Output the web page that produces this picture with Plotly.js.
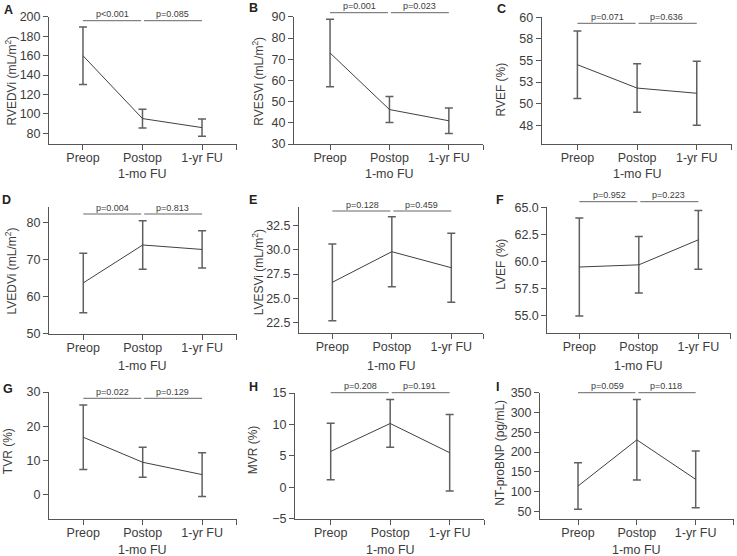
<!DOCTYPE html>
<html>
<head>
<meta charset="utf-8">
<script src="https://cdn.plot.ly/plotly-3.0.1.min.js"></script>
<style>
  html, body { margin: 0; padding: 0; background: #fff; }
  #chart { width: 737px; height: 556px; }
</style>
</head>
<body>
<div id="chart"></div>
<script>
// Time points shared by every panel
const timepoints = ['Preop', 'Postop', '1-yr FU'];
const postopSubLabel = '1-mo FU';

// Mean and SD per time point
const rvedviMean = [160, 95.2, 85.9];
const rvedviSD   = [29.6, 9.6, 8.9];
const rvesviMean = [73, 46.3, 41];
const rvesviSD   = [15.9, 6.1, 6];
const rvefMean   = [54.5, 51.8, 51.2];
const rvefSD     = [3.9, 2.8, 3.7];
const lvedviMean = [63.7, 73.9, 72.7];
const lvedviSD   = [8, 6.5, 5];
const lvesviMean = [26.65, 29.8, 28.15];
const lvesviSD   = [3.95, 3.6, 3.55];
const lvefMean   = [59.5, 59.7, 62.0];
const lvefSD     = [4.5, 2.6, 2.7];
const tvrMean    = [16.8, 9.5, 5.9];
const tvrSD      = [9.4, 4.4, 6.4];
const mvrMean    = [5.7, 10.15, 5.5];
const mvrSD      = [4.5, 3.8, 6.1];
const bnpMean    = [114, 231, 131];
const bnpSD      = [59, 102, 72];

// Pairwise p-values: Preop vs Postop, Postop vs 1-yr FU
const pEarly = ['p<0.001', 'p=0.001', 'p=0.071', 'p=0.004', 'p=0.128', 'p=0.952', 'p=0.022', 'p=0.208', 'p=0.059'];
const pLate  = ['p=0.085', 'p=0.023', 'p=0.636', 'p=0.813', 'p=0.459', 'p=0.223', 'p=0.129', 'p=0.191', 'p=0.118'];

// Panel letters and y-axis titles
const panelLetters = ['A', 'B', 'C', 'D', 'E', 'F', 'G', 'H', 'I'];
const yTitles = [
  'RVEDVi (mL/m<sup>2</sup>)', 'RVESVi (mL/m<sup>2</sup>)', 'RVEF (%)',
  'LVEDVi (mL/m<sup>2</sup>)', 'LVESVi (mL/m<sup>2</sup>)', 'LVEF (%)',
  'TVR (%)', 'MVR (%)', 'NT-proBNP (pg/mL)'
];

// RVEF axis labels are printed rounded to whole numbers
const rvefTickVals = [47.5, 50, 52.5, 55, 57.5, 60];
const rvefTickText = ['48', '50', '53', '55', '58', '60'];

const series = [
  [rvedviMean, rvedviSD], [rvesviMean, rvesviSD], [rvefMean, rvefSD],
  [lvedviMean, lvedviSD], [lvesviMean, lvesviSD], [lvefMean, lvefSD],
  [tvrMean, tvrSD], [mvrMean, mvrSD], [bnpMean, bnpSD]
];

// Page geometry (pixels) for each panel: plot box, axis ranges, label spots
const W = 737, H = 556;
const panels = [
  { l: 49,    r: 237,   t: 16.7,  b: 144,   xr: [-0.571, 2.588], yr: [69, 200.2],    ytick: { tick0: 80, dtick: 20 },
    br: 20.7,  letter: [8.5, 10],   ytl: [10.5, 81],   xtl: 174.5 },
  { l: 294,   r: 483.3, t: 16.7,  b: 144.3, xr: [-0.607, 2.58],  yr: [29.9, 90.1],   ytick: { tick0: 30, dtick: 10 },
    br: 12.7,  letter: [253, 7.5],  ytl: [257.8, 81],  xtl: 174 },
  { l: 541.7, r: 731.7, t: 16.7,  b: 144.3, xr: [-0.598, 2.585], yr: [45.3, 60.05],  ytick: { vals: rvefTickVals, text: rvefTickText },
    br: 23.3,  letter: [501, 8.5],  ytl: [500.5, 90],  xtl: 174.5 },
  { l: 49,    r: 237,   t: 206.7, b: 334,   xr: [-0.577, 2.587], yr: [49.95, 84.2],  ytick: { tick0: 50, dtick: 10 },
    br: 214,   letter: [6.5, 200],  ytl: [10.5, 271],  xtl: 366 },
  { l: 299,   r: 483.3, t: 207,   b: 333.3, xr: [-0.561, 2.538], yr: [21.4, 34.4],   ytick: { tick0: 22.5, dtick: 2.5, fmt: '.1f' },
    br: 211,   letter: [253, 200],  ytl: [257.8, 272.5], xtl: 366 },
  { l: 547.3, r: 731,   t: 206.7, b: 333.3, xr: [-0.538, 2.549], yr: [53.4, 65.05],  ytick: { tick0: 55, dtick: 2.5, fmt: '.1f' },
    br: 201.7, letter: [499.5, 200], ytl: [500.8, 264], xtl: 366 },
  { l: 49,    r: 236.7, t: 391.7, b: 519,   xr: [-0.577, 2.582], yr: [-7.06, 30.1],  ytick: { tick0: 0, dtick: 10 },
    br: 398.3, letter: [7.5, 389],  ytl: [7.5, 451.7], xtl: 549.5 },
  { l: 295,   r: 484.3, t: 392.7, b: 519,   xr: [-0.600, 2.582], yr: [-5.05, 15.05], ytick: { tick0: -5, dtick: 5 },
    br: 392.7, letter: [253.5, 386.7], ytl: [253.3, 450], xtl: 549.5 },
  { l: 540,   r: 734,   t: 392.7, b: 519,   xr: [-0.646, 2.651], yr: [30.5, 350.5],  ytick: { tick0: 50, dtick: 50 },
    br: 392.7, letter: [497.5, 386.7], ytl: [499.2, 452.5], xtl: 549.5 }
];

const FONT = 'Liberation Sans, Arial, Helvetica, sans-serif';
const TEXT = '#3c3c3c';
const AXIS = '#555555';
const px = v => v / W;
const py = v => 1 - v / H;

const data = [];
const layout = {
  width: W, height: H,
  margin: { l: 0, r: 0, t: 0, b: 0 },
  paper_bgcolor: '#ffffff', plot_bgcolor: '#ffffff',
  showlegend: false,
  font: { family: FONT, color: TEXT, size: 12 },
  shapes: [], annotations: []
};

panels.forEach((p, i) => {
  const n = i === 0 ? '' : String(i + 1);
  const xRef = 'x' + n, yRef = 'y' + n;
  const [mean, sd] = series[i];
  const idx = timepoints.map((_, k) => k);

  data.push({
    x: idx, y: mean,
    mode: 'lines',
    line: { color: '#404040', width: 1 },
    error_y: { type: 'data', array: sd, visible: true, color: '#606060', thickness: 1.5, width: 4 },
    xaxis: xRef, yaxis: yRef,
    hoverinfo: 'skip'
  });

  layout['xaxis' + n] = {
    domain: [px(p.l), px(p.r)],
    anchor: yRef,
    range: p.xr,
    tickmode: 'array',
    tickvals: idx,
    ticktext: timepoints,
    ticks: 'outside', ticklen: 5, tickwidth: 1, tickcolor: AXIS,
    ticklabelstandoff: -3,
    // closing tick at the right end of the axis
    minor: { tickmode: 'array', tickvals: [p.xr[1] - 0.002], ticks: 'outside', ticklen: 5, tickwidth: 1, tickcolor: AXIS, showgrid: false },
    showline: true, linecolor: AXIS, linewidth: 1,
    showgrid: false, zeroline: false,
    tickfont: { family: FONT, size: 12.5, color: TEXT },
    fixedrange: true
  };

  const ya = {
    domain: [py(p.b), py(p.t)],
    anchor: xRef,
    range: p.yr,
    ticks: 'outside', ticklen: 5, tickwidth: 1, tickcolor: AXIS,
    showline: true, linecolor: AXIS, linewidth: 1,
    showgrid: false, zeroline: false,
    tickfont: { family: FONT, size: 12.5, color: TEXT },
    fixedrange: true
  };
  if (p.ytick.vals) {
    ya.tickmode = 'array';
    ya.tickvals = p.ytick.vals;
    ya.ticktext = p.ytick.text;
  } else {
    ya.tickmode = 'linear';
    ya.tick0 = p.ytick.tick0;
    ya.dtick = p.ytick.dtick;
    if (p.ytick.fmt) ya.tickformat = p.ytick.fmt;
  }
  layout['yaxis' + n] = ya;

  // Significance brackets between adjacent time points
  const gap = 0.025;
  [[0, 1 - gap], [1 + gap, 2]].forEach(seg => {
    layout.shapes.push({
      type: 'line', xref: xRef, yref: 'paper',
      x0: seg[0], x1: seg[1], y0: py(p.br), y1: py(p.br),
      line: { color: '#666666', width: 1 }
    });
  });
  [[0.5, pEarly[i]], [1.5, pLate[i]]].forEach(([xv, txt]) => {
    layout.annotations.push({
      xref: xRef, yref: 'paper', x: xv, y: py(p.br - 6.5),
      text: txt, showarrow: false, xanchor: 'center', yanchor: 'middle',
      font: { family: FONT, size: 9, color: TEXT }
    });
  });

  // Panel letter
  layout.annotations.push({
    xref: 'paper', yref: 'paper', x: px(p.letter[0]), y: py(p.letter[1]),
    text: '<b>' + panelLetters[i] + '</b>', showarrow: false,
    xanchor: 'center', yanchor: 'middle',
    font: { family: FONT, size: 12.5, color: '#222222' }
  });

  // Y-axis title
  layout.annotations.push({
    xref: 'paper', yref: 'paper', x: px(p.ytl[0]), y: py(p.ytl[1]),
    text: yTitles[i], textangle: -90, showarrow: false,
    xanchor: 'center', yanchor: 'middle',
    font: { family: FONT, size: 12, color: TEXT }
  });

  // Second line under the Postop label
  layout.annotations.push({
    xref: xRef, yref: 'paper', x: 1, y: py(p.xtl),
    text: postopSubLabel, showarrow: false,
    xanchor: 'center', yanchor: 'middle',
    font: { family: FONT, size: 12.5, color: TEXT }
  });
});

Plotly.newPlot('chart', data, layout, { staticPlot: true, displayModeBar: false });
</script>
</body>
</html>
